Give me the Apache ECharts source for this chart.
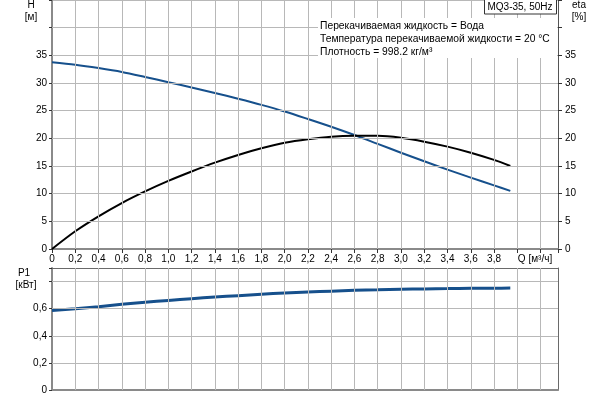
<!DOCTYPE html>
<html>
<head>
<meta charset="utf-8">
<script src="https://cdn.jsdelivr.net/npm/echarts@6/dist/echarts.min.js"></script>
<style>
  html, body { margin: 0; padding: 0; background: #fff; }
  #chart { width: 600px; height: 400px; }
</style>
</head>
<body>
<div id="chart"></div>
<script>
// ---- Data ----
const flowQ = [0, 0.2, 0.4, 0.6, 0.8, 1.0, 1.2, 1.4, 1.6, 1.8, 2.0, 2.2, 2.4, 2.6, 2.8, 3.0, 3.2, 3.4, 3.6, 3.8, 3.94];
const headH = [33.75, 33.3, 32.7, 32.0, 31.1, 30.15, 29.2, 28.2, 27.15, 26.05, 24.85, 23.5, 22.1, 20.6, 19.0, 17.4, 15.85, 14.35, 12.9, 11.5, 10.5];
const etaPct = [0, 3.2, 5.9, 8.3, 10.4, 12.3, 14.0, 15.6, 17.0, 18.2, 19.2, 19.85, 20.3, 20.45, 20.45, 20.1, 19.4, 18.5, 17.4, 16.1, 15.0];
const powerP1 = [0.587, 0.6, 0.615, 0.632, 0.647, 0.661, 0.674, 0.686, 0.696, 0.706, 0.716, 0.723, 0.729, 0.735, 0.739, 0.743, 0.746, 0.748, 0.75, 0.751, 0.752];

// grid tick positions
const qTicks = [0.2, 0.4, 0.6, 0.8, 1.0, 1.2, 1.4, 1.6, 1.8, 2.0, 2.2, 2.4, 2.6, 2.8, 3.0, 3.2, 3.4, 3.6, 3.8, 4.0, 4.2];
const hTicks = [5, 10, 15, 20, 25, 30, 35, 40];
const pTicks = [0.2, 0.4, 0.6, 0.8];

const titleText = 'MQ3-35, 50Hz';
const infoLines = [
  'Перекачиваемая жидкость = Вода',
  'Температура перекачиваемой жидкости = 20 °C',
  'Плотность = 998.2 кг/м³'
];

const pair = (ys) => flowQ.map((q, i) => [q, ys[i]]);

const FONT = '"Liberation Sans", Arial, sans-serif';
const AXIS_GRAY = '#8a8a8a';
const GRID_GRAY = '#b8b8b8';
const BLUE = '#16508c';
const FS = 10;

function commaFmt(v) {
  if (Math.abs(v) < 1e-9) return '0';
  return v.toFixed(1).replace('.', ',');
}
function isMult(v, step) {
  const r = v / step;
  return Math.abs(r - Math.round(r)) < 1e-6;
}

const chart = echarts.init(document.getElementById('chart'));

function split() { return { show: true, lineStyle: { color: GRID_GRAY, width: 1 } }; }

function gridMarkLines(yTicks) {
  return {
    silent: true, symbol: ['none', 'none'], label: { show: false },
    lineStyle: { color: GRID_GRAY, width: 1, type: 'solid' },
    emphasis: { disabled: true },
    animation: false,
    data: qTicks.map(v => ({ xAxis: v })).concat(yTicks.map(v => ({ yAxis: v })))
  };
}

const option = {
  animation: false,
  grid: [
    { left: 52, right: 42, top: 0, height: 249 },
    { left: 52, right: 42, top: 268, height: 122 }
  ],
  xAxis: [
    {
      gridIndex: 0, type: 'value', min: 0, max: 4.35, interval: 0.2,
      axisLine: { show: true, onZero: false, lineStyle: { color: AXIS_GRAY, width: 2 } },
      axisTick: { show: true, length: 4, lineStyle: { color: '#333' } },
      axisLabel: {
        color: '#000', fontSize: FS, fontFamily: FONT, margin: 5,
        formatter: (v) => (isMult(v, 0.2) && v < 3.9) ? commaFmt(v) : ''
      },
      splitLine: split()
    },
    {
      gridIndex: 1, type: 'value', min: 0, max: 4.35, interval: 0.2,
      axisLine: { show: true, onZero: false, lineStyle: { color: AXIS_GRAY, width: 2 } },
      axisTick: { show: false },
      axisLabel: { show: false },
      splitLine: split()
    },
    {
      gridIndex: 1, type: 'value', min: 0, max: 4.35, position: 'top',
      axisLine: { show: true, onZero: false, lineStyle: { color: '#6a6a6a', width: 1 } },
      axisTick: { show: false }, axisLabel: { show: false }, splitLine: { show: false }
    }
  ],
  yAxis: [
    {
      gridIndex: 0, type: 'value', min: 0, max: 45, interval: 5, position: 'left',
      axisLine: { show: true, onZero: false, lineStyle: { color: AXIS_GRAY, width: 2 } },
      axisTick: { show: true, length: 3, lineStyle: { color: '#333' } },
      axisLabel: {
        color: '#000', fontSize: FS, fontFamily: FONT, margin: 5,
        formatter: (v) => v <= 35 ? String(v) : ''
      },
      splitLine: split()
    },
    {
      gridIndex: 0, type: 'value', min: 0, max: 45, interval: 5, position: 'right',
      axisLine: { show: true, onZero: false, lineStyle: { color: '#555', width: 1 } },
      axisTick: { show: true, length: 4, lineStyle: { color: '#333' } },
      axisLabel: {
        color: '#000', fontSize: FS, fontFamily: FONT, margin: 7,
        formatter: (v) => v <= 35 ? String(v) : ''
      },
      splitLine: { show: false }
    },
    {
      gridIndex: 1, type: 'value', min: 0, max: 0.9, interval: 0.2, position: 'left',
      axisLine: { show: true, onZero: false, lineStyle: { color: AXIS_GRAY, width: 2 } },
      axisTick: { show: true, length: 3, lineStyle: { color: '#333' } },
      axisLabel: {
        color: '#000', fontSize: FS, fontFamily: FONT, margin: 5,
        formatter: (v) => v <= 0.61 ? commaFmt(v) : ''
      },
      splitLine: split()
    },
    {
      gridIndex: 1, type: 'value', min: 0, max: 0.9, position: 'right',
      axisLine: { show: true, onZero: false, lineStyle: { color: '#6a6a6a', width: 1 } },
      axisTick: { show: false }, axisLabel: { show: false }, splitLine: { show: false }
    }
  ],
  series: [
    {
      name: 'grid-top', type: 'line', xAxisIndex: 0, yAxisIndex: 0, data: [],
      showSymbol: false, silent: true, z: 1, markLine: gridMarkLines(hTicks)
    },
    {
      name: 'grid-bottom', type: 'line', xAxisIndex: 1, yAxisIndex: 2, data: [],
      showSymbol: false, silent: true, z: 1, markLine: gridMarkLines(pTicks)
    },
    {
      name: 'H', type: 'line', xAxisIndex: 0, yAxisIndex: 0,
      data: pair(headH), smooth: 0.3, showSymbol: false,
      lineStyle: { color: BLUE, width: 2 }, z: 3
    },
    {
      name: 'eta', type: 'line', xAxisIndex: 0, yAxisIndex: 1,
      data: pair(etaPct), smooth: 0.3, showSymbol: false,
      lineStyle: { color: '#000', width: 2 }, z: 3
    },
    {
      name: 'P1', type: 'line', xAxisIndex: 1, yAxisIndex: 2,
      data: pair(powerP1), smooth: 0.3, showSymbol: false,
      lineStyle: { color: BLUE, width: 3 }, z: 3
    }
  ],
  graphic: [
    { type: 'rect', shape: { x: 318, y: 18, width: 239, height: 40 }, style: { fill: '#fff' }, z: 10 },
    { type: 'text', x: 320, y: 26, style: { text: infoLines[0], font: '10.3px ' + FONT, fill: '#000', verticalAlign: 'middle' }, z: 11 },
    { type: 'text', x: 320, y: 39, style: { text: infoLines[1], font: '10.3px ' + FONT, fill: '#000', verticalAlign: 'middle' }, z: 11 },
    { type: 'text', x: 320, y: 52, style: { text: infoLines[2], font: '10.3px ' + FONT, fill: '#000', verticalAlign: 'middle' }, z: 11 },
    { type: 'rect', shape: { x: 484.5, y: -1, width: 72, height: 15 }, style: { fill: '#fff', stroke: '#333', lineWidth: 1 }, z: 12 },
    { type: 'text', x: 520, y: 7, style: { text: titleText, font: '10px ' + FONT, fill: '#000', align: 'center', verticalAlign: 'middle' }, z: 13 },
    { type: 'text', x: 31, y: 5, style: { text: 'H', font: '10px ' + FONT, fill: '#000', align: 'center', verticalAlign: 'middle' } },
    { type: 'text', x: 31, y: 17, style: { text: '[м]', font: '10px ' + FONT, fill: '#000', align: 'center', verticalAlign: 'middle' } },
    { type: 'text', x: 579, y: 5, style: { text: 'eta', font: '10px ' + FONT, fill: '#000', align: 'center', verticalAlign: 'middle' } },
    { type: 'text', x: 579, y: 17, style: { text: '[%]', font: '10px ' + FONT, fill: '#000', align: 'center', verticalAlign: 'middle' } },
    { type: 'text', x: 24, y: 273, style: { text: 'P1', font: '10px ' + FONT, fill: '#000', align: 'center', verticalAlign: 'middle' } },
    { type: 'text', x: 26, y: 285, style: { text: '[кВт]', font: '10px ' + FONT, fill: '#000', align: 'center', verticalAlign: 'middle' } },
    { type: 'text', x: 535, y: 259, style: { text: 'Q [м³/ч]', font: '10px ' + FONT, fill: '#000', align: 'center', verticalAlign: 'middle' } }
  ]
};

chart.setOption(option);
</script>
</body>
</html>
